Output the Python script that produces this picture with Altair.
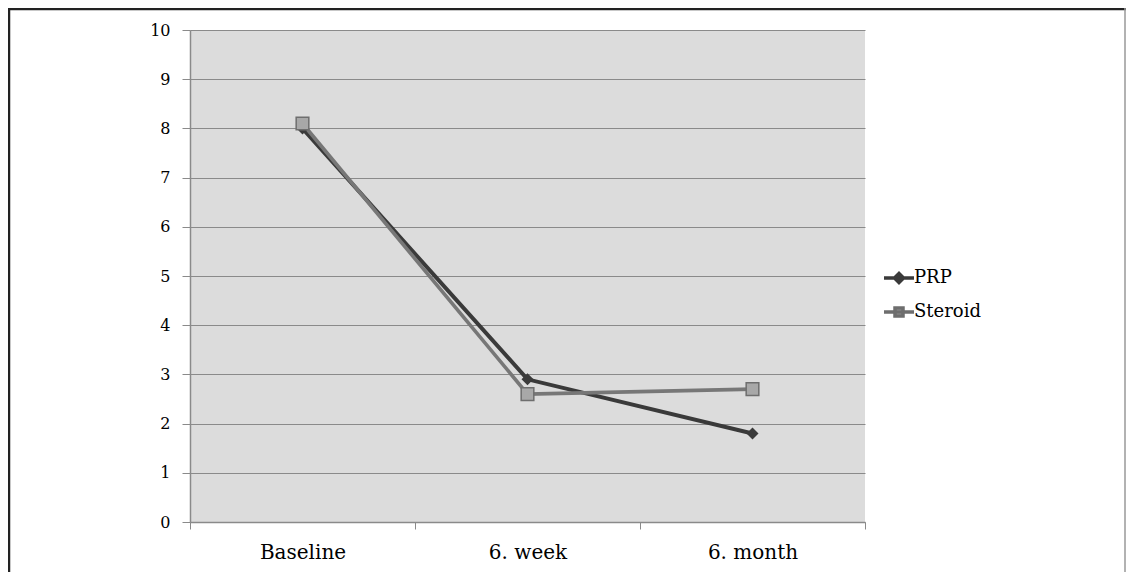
import altair as alt
import pandas as pd

timepoints = ["Baseline", "6. week", "6. month"]
prp_values = [8.0, 2.9, 1.8]
steroid_values = [8.1, 2.6, 2.7]
series_names = ["PRP", "Steroid"]
y_ticks = [0, 1, 2, 3, 4, 5, 6, 7, 8, 9, 10]

rows = []
for t, v in zip(timepoints, prp_values):
    rows.append({"time": t, "value": v, "series": "PRP"})
for t, v in zip(timepoints, steroid_values):
    rows.append({"time": t, "value": v, "series": "Steroid"})
df = pd.DataFrame(rows)

FONT = "DejaVu Serif"
W, H = 675, 492
PAD_L, PAD_T, PAD_R, PAD_B = 182, 22, 261, 50

x_enc = alt.X("time:N", sort=timepoints,
              scale=alt.Scale(domain=timepoints, paddingInner=0, paddingOuter=0),
              axis=alt.Axis(title=None, labelAngle=0, tickBand="extent", tickSize=7,
                            labelPadding=13, grid=False, labelFontSize=20, labelFont=FONT))
y_enc = alt.Y("value:Q", scale=alt.Scale(domain=[0, 10], nice=False),
              axis=alt.Axis(title=None, values=y_ticks, tickSize=8, labelPadding=12,
                            grid=True, gridColor="#8a8a8a", gridWidth=1.2, labelFontSize=16,
                            labelFont=FONT))

base = alt.Chart(df)

line_prp = base.transform_filter(alt.datum.series == "PRP").mark_line(
    color="#3a3a3a", strokeWidth=4).encode(x=x_enc, y=y_enc)
line_ster = base.transform_filter(alt.datum.series == "Steroid").mark_line(
    color="#777777", strokeWidth=3.6).encode(x=x_enc, y=y_enc)
pts_prp = base.transform_filter(alt.datum.series == "PRP").mark_point(
    shape="diamond", filled=True, color="#3a3a3a", size=145, opacity=1).encode(x=x_enc, y=y_enc)
pts_ster = base.transform_filter(alt.datum.series == "Steroid").mark_point(
    shape="square", filled=True, fill="#a8a8a8", stroke="#6e6e6e", strokeWidth=1.5,
    size=160, opacity=1).encode(x=x_enc, y=y_enc)

legend_cfg = dict(orient="none", legendX=697, legendY=236, title=None,
                  symbolSize=400, symbolStrokeWidth=3.5, symbolOpacity=1,
                  labelOffset=3, rowPadding=10, labelFont=FONT, labelFontSize=18)
path_prp = "M-1.5,0H1.5M-0.45,0L0,-0.45L0.45,0L0,0.45Z"
path_ster = "M-1.5,0H1.5M-0.4,-0.4H0.4V0.4H-0.4Z"
legend_layer = base.mark_point(filled=True, opacity=0).encode(
    x=x_enc, y=y_enc,
    shape=alt.Shape("series:N", scale=alt.Scale(domain=series_names, range=[path_prp, path_ster]),
                    legend=alt.Legend(**legend_cfg)),
    fill=alt.Fill("series:N", scale=alt.Scale(domain=series_names, range=["#3a3a3a", "#a8a8a8"]),
                  legend=alt.Legend(**legend_cfg)),
    stroke=alt.Stroke("series:N", scale=alt.Scale(domain=series_names, range=["#3a3a3a", "#6e6e6e"]),
                      legend=alt.Legend(**legend_cfg)),
)

frame_df = pd.DataFrame({"k": [0]})
frame = alt.Chart(frame_df)
left_b = frame.mark_rule(color="#222", strokeWidth=2.5).encode(
    x=alt.value(-PAD_L + 1), y=alt.value(-PAD_T), y2=alt.value(H + PAD_B))
top_b = frame.mark_rule(color="#222", strokeWidth=2.5).encode(
    x=alt.value(-PAD_L), x2=alt.value(W + PAD_R), y=alt.value(-PAD_T + 1))
right_b = frame.mark_rule(color="#999", strokeWidth=1.5).encode(
    x=alt.value(W + PAD_R - 1), y=alt.value(-PAD_T), y2=alt.value(H + PAD_B))

chart = alt.layer(line_prp, line_ster, pts_prp, pts_ster, legend_layer,
                  left_b, top_b, right_b).properties(
    width=W, height=H,
    autosize=alt.AutoSizeParams(type="none"),
    padding={"left": PAD_L, "top": PAD_T, "right": PAD_R, "bottom": PAD_B},
    background="white",
).configure_view(fill="#dcdcdc", stroke=None).configure_axis(
    labelColor="#000", tickColor="#8a8a8a",
    domainColor="#8a8a8a", domainWidth=1.5,
).configure_legend(labelColor="#000")

chart.save("out.html", embed_options={"renderer": "svg", "actions": False})
